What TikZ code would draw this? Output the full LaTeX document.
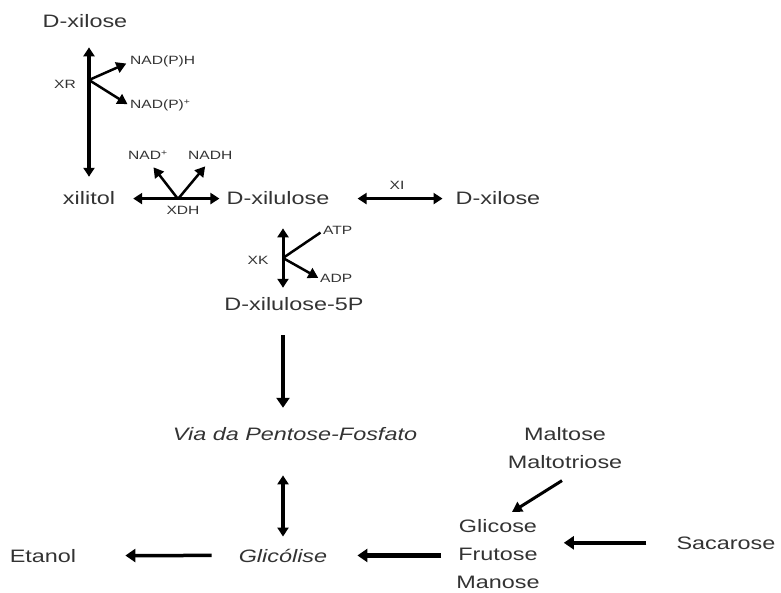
\documentclass[tikz,border=0pt]{standalone}
\usepackage{fontspec}
\setmainfont{Liberation Sans}[FakeStretch=1.3]
\usetikzlibrary{arrows.meta}
\begin{document}
\begin{tikzpicture}[x=1pt,y=-1pt,
    grande/.style={font=\fontsize{18}{28}\selectfont,text=black!80,inner sep=0pt,anchor=base},
    pequeno/.style={font=\fontsize{12}{13}\selectfont,text=black!80,inner sep=0pt,anchor=base},
    seta/.style={line width=4.5pt,-{Triangle[width=13pt,length=10pt]}},
    dupla/.style={line width=3.5pt,{Triangle[width=11pt,length=9pt]}-{Triangle[width=11pt,length=9pt]}},
    ramo/.style={line width=2.5pt,-{Triangle[width=11pt,length=10pt]}}]
  \useasboundingbox (0,0) rectangle (781,593);
  \draw
    (85,28) node[grande] (xilose){D-xilose}
    (89,205) node[grande] (xilitol){xilitol}
    (278,205) node[grande] (xilulose){D-xilulose}
    (498,205) node[grande] (xilose2){D-xilose}
    (294,310) node[grande] (xilulose5p){D-xilulose-5P}
    (295,440) node[grande] (pentose){\itshape Via da Pentose-Fosfato}
    (283,562) node[grande] (glicolise){\itshape Glicólise}
    (43,562) node[grande] (etanol){Etanol}
    (498,519) node[grande,anchor=north,align=center] (hexoses){Glicose\\Frutose\\Manose}
    (565,427) node[grande,anchor=north,align=center] (maltoses){Maltose\\Maltotriose}
    (726,549) node[grande] (sacarose){Sacarose}
    (65,89) node[pequeno] (xr){XR}
    (130,65) node[pequeno,anchor=base west] (nadph){NAD(P)H}
    (130,109) node[pequeno,anchor=base west] (nadp){NAD(P)\textsuperscript{+}}
    (128,160) node[pequeno,anchor=base west] (nadm){NAD\textsuperscript{+}}
    (188,160) node[pequeno,anchor=base west] (nadh){NADH}
    (183,215) node[pequeno] (xdh){XDH}
    (397,190) node[pequeno] (xi){XI}
    (258,265) node[pequeno] (xk){XK}
    (323,235) node[pequeno,anchor=base west] (atp){ATP}
    (320,283) node[pequeno,anchor=base west] (adp){ADP};
  \coordinate (rxr) at (89,80);
  \coordinate (rxdh) at (178,199);
  \coordinate (rxk) at (283,258);
  \begin{scope}[black]
    \draw[dupla,shorten <=19pt,shorten >=15pt] (rxr |- xilose.south) to (rxr |- xilitol.north);
    \draw[ramo,shorten >=4pt] (rxr) to (nadph.west);
    \draw[ramo,shorten >=3pt] (rxr) to (nadp.west);
    \draw[dupla,line width=3pt,shorten <=18pt,shorten >=7pt] (xilitol.east) to (xilulose.west);
    \draw[ramo,shorten >=9pt] (rxdh) to (nadm.south);
    \draw[ramo,shorten >=8pt] (rxdh) to (nadh.south);
    \draw[dupla,shorten <=28pt,shorten >=13pt] (xilulose.east) to (xilose2.west);
    \draw[dupla,line width=3pt,shorten <=23pt,shorten >=9pt] (rxk |- xilulose.south) to (rxk |- xilulose5p.north);
    \draw[line width=2.5pt,shorten <=3pt] (atp.west) to (rxk);
    \draw[ramo,shorten >=2pt] (rxk) to (adp.west);
    \draw[seta,shorten <=25pt,shorten >=19pt] (rxk |- xilulose5p.south) to (rxk |- pentose.north);
    \draw[dupla,line width=4pt,shorten <=35pt,shorten >=12pt] (glicolise |- pentose.south) to (glicolise.north);
    \draw[seta,line width=3.5pt,shorten <=27pt,shorten >=49pt] (glicolise.west) to (etanol.east);
    \draw[seta,shorten <=15pt,shorten >=30pt] (hexoses.west |- glicolise.east) to (glicolise.east);
    \draw[seta,shorten <=30pt,shorten >=24pt] (sacarose.west) to (hexoses.east |- sacarose.west);
    \draw[ramo,line width=3pt] ([xshift=-3pt,yshift=-12pt]maltoses.south) to ([xshift=14pt,yshift=7pt]hexoses.north);
  \end{scope}
\end{tikzpicture}
\end{document}
